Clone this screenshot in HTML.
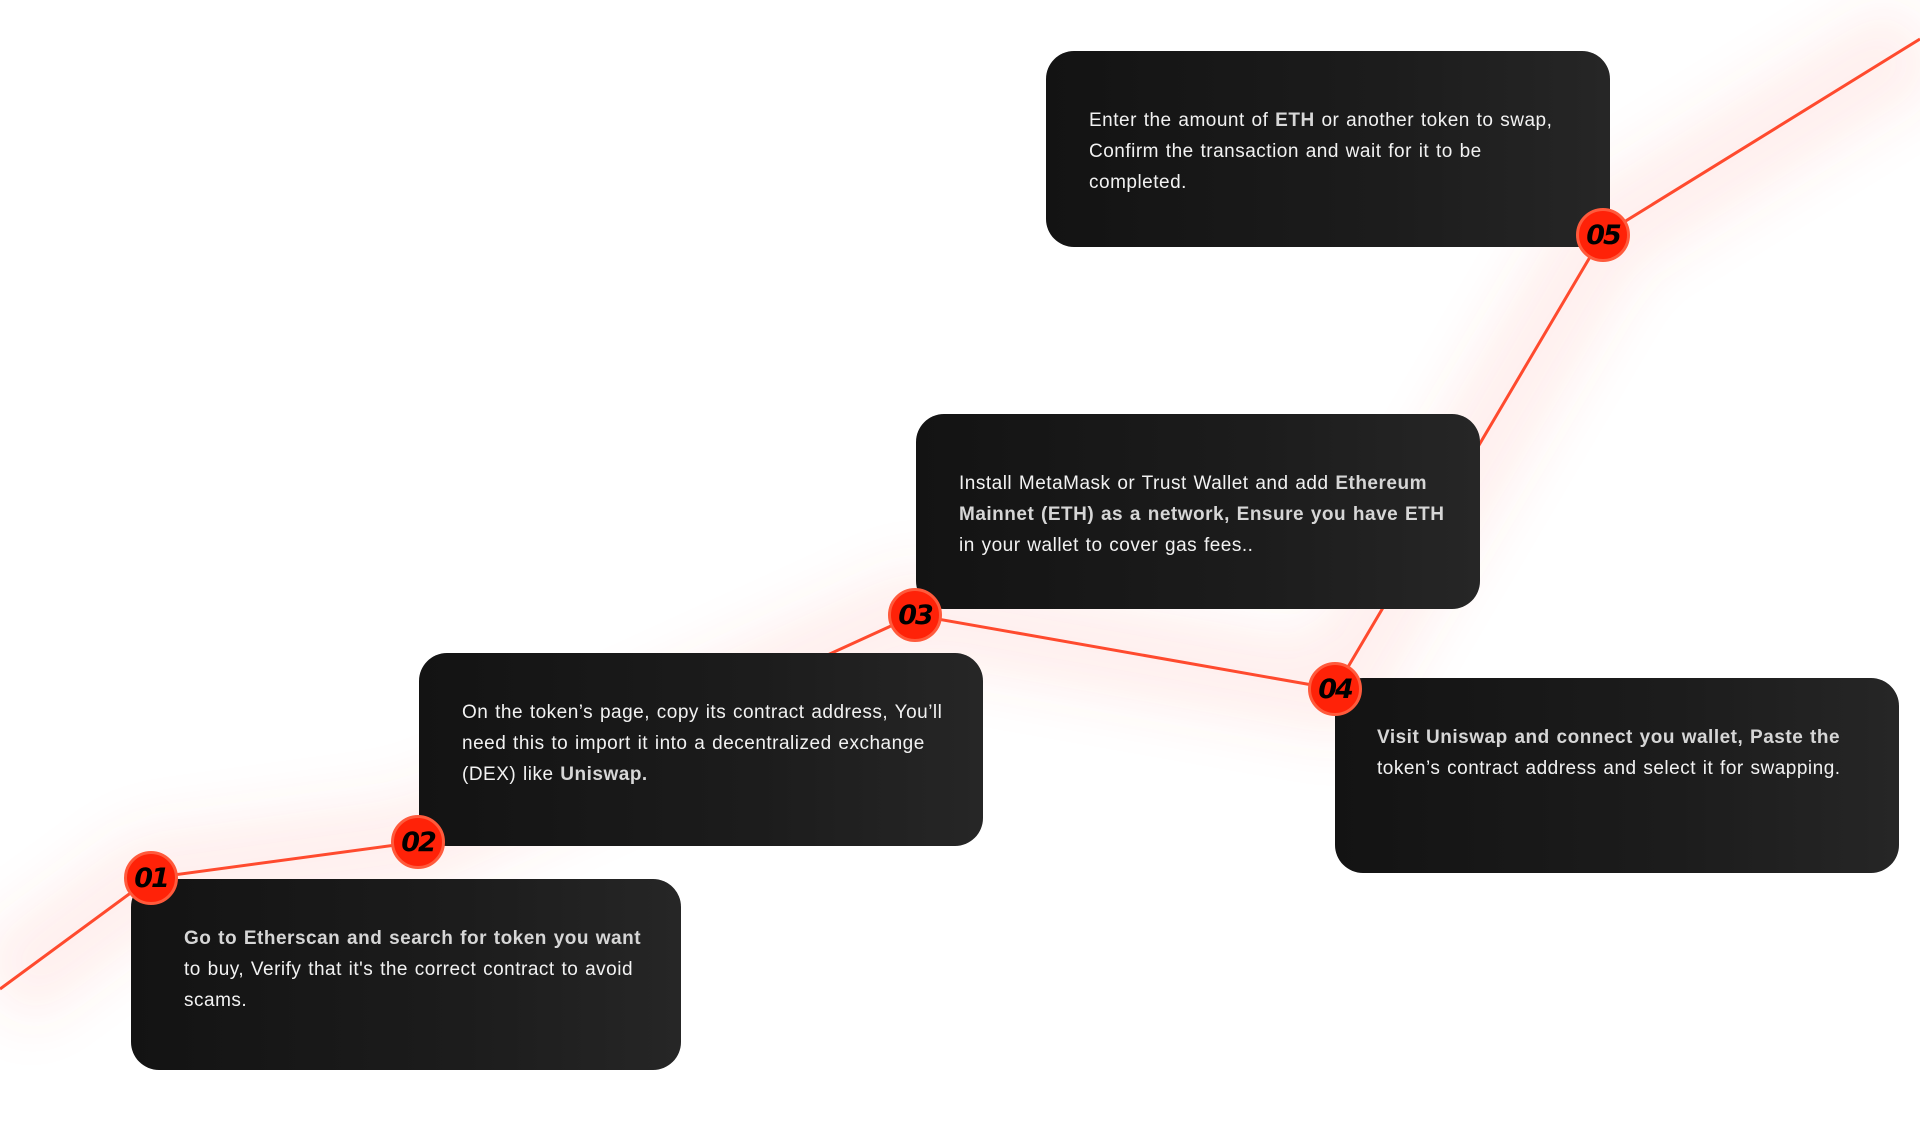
<!DOCTYPE html>
<html><head><meta charset="utf-8"><style>
html,body{margin:0;padding:0;background:#fff;width:1920px;height:1126px;overflow:hidden;position:relative;font-family:"Liberation Sans",sans-serif}
.box{position:absolute;border-radius:28px;background:linear-gradient(90deg,#131313 0%,#1c1c1c 60%,#262626 100%);color:#f2f2f2;font-size:19px;letter-spacing:0.5px;word-spacing:1px;line-height:31px;box-sizing:border-box;padding:44px 20px 0 43px;white-space:nowrap}
.box b{color:#d6d6d6;font-weight:bold}
.badge{position:absolute;width:54px;height:54px;border-radius:50%;background:#ff2208;border:3px solid #ff5a3c;box-sizing:border-box;display:flex;align-items:center;justify-content:center;font-family:"DejaVu Sans",sans-serif;font-style:italic;font-weight:bold;font-size:27px;color:#000;letter-spacing:-2px;transform:translate(-50%,-50%)}
svg{position:absolute;left:0;top:0}
</style></head><body>
<svg width="1920" height="1126">
<defs><filter id="b" x="-20%" y="-20%" width="140%" height="140%"><feGaussianBlur stdDeviation="28"/></filter></defs>
<polyline points="0,989 151,878 418,842 915,615 1335,689 1603,235 1920,39" fill="none" stroke="#ff5a4a" stroke-opacity="0.1" stroke-width="90" filter="url(#b)"/>
<polyline points="0,989 151,878 418,842 915,615 1335,689 1603,235 1920,39" fill="none" stroke="#ff4a2e" stroke-width="3"/>
</svg>
<div class="box" style="left:1046px;top:51px;width:564px;height:196px;padding-top:54px">Enter the amount of <b>ETH</b> or another token to swap,<br>Confirm the transaction and wait for it to be<br>completed.</div>
<div class="box" style="left:916px;top:414px;width:564px;height:195px;padding-top:54px">Install MetaMask or Trust Wallet and add <b>Ethereum<br>Mainnet (ETH) as a network, Ensure you have ETH</b><br>in your wallet to cover gas fees..</div>
<div class="box" style="left:419px;top:653px;width:564px;height:193px">On the token’s page, copy its contract address, You’ll<br>need this to import it into a decentralized exchange<br>(DEX) like <b>Uniswap.</b></div>
<div class="box" style="left:1335px;top:678px;width:564px;height:195px;padding-left:42px"><b>Visit Uniswap and connect you wallet, Paste the</b><br>token’s contract address and select it for swapping.</div>
<div class="box" style="left:131px;top:879px;width:550px;height:191px;padding-left:53px"><b>Go to Etherscan and search for token you want</b><br>to buy, Verify that it's the correct contract to avoid<br>scams.</div>
<div class="badge" style="left:151px;top:878px">01</div>
<div class="badge" style="left:418px;top:842px">02</div>
<div class="badge" style="left:915px;top:615px">03</div>
<div class="badge" style="left:1335px;top:689px">04</div>
<div class="badge" style="left:1603px;top:235px">05</div>
</body></html>
